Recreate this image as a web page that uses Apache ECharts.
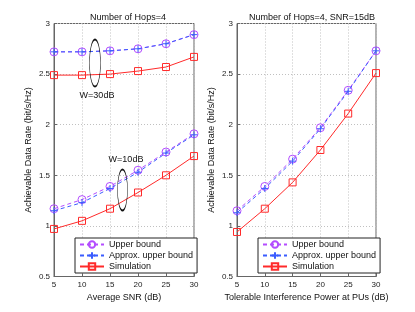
<!DOCTYPE html>
<html><head><meta charset="utf-8">
<script src="https://cdn.jsdelivr.net/npm/echarts@6/dist/echarts.min.js"></script>
<style>html,body{margin:0;padding:0;background:#fff}#c{width:415px;height:312px}</style>
</head><body><div id="c"></div>
<script>
// ---- data ----
const snr = [5, 10, 15, 20, 25, 30];
const itp = [5, 10, 15, 20, 25, 30];
const upperW30 = [2.72, 2.72, 2.73, 2.75, 2.80, 2.89];
const approxW30 = [2.72, 2.72, 2.73, 2.75, 2.80, 2.89];
const simW30 = [2.49, 2.49, 2.50, 2.53, 2.57, 2.67];
const upperW10 = [1.17, 1.26, 1.39, 1.55, 1.73, 1.91];
const approxW10 = [1.15, 1.23, 1.37, 1.53, 1.72, 1.90];
const simW10 = [0.97, 1.05, 1.17, 1.33, 1.50, 1.69];
const upperR = [1.15, 1.39, 1.66, 1.97, 2.34, 2.73];
const approxR = [1.13, 1.37, 1.64, 1.96, 2.33, 2.73];
const simR = [0.94, 1.17, 1.43, 1.75, 2.11, 2.51];
const names = ['Upper bound', 'Approx. upper bound', 'Simulation'];
const titles = ['Number of Hops=4', 'Number of Hops=4, SNR=15dB'];
const xNames = ['Average SNR (dB)', 'Tolerable Interference Power at PUs (dB)'];
const yName = 'Achievable Data Rate (bit/s/Hz)';

const C_UP = '#b44dff', C_AP = '#3a5cff', C_SIM = '#ff2a2a';
const COLS = [C_UP, C_AP, C_SIM];
const FONT = 'Liberation Sans, Arial, sans-serif';
const plus = 'path://M0,5L10,5M5,0L5,10';
const SYMS = ['circle', plus, 'rect'];
const DASH = [[4,3], [4,3], 'solid'];

function pairs(xs, ys){ return xs.map((x,i)=>[x, ys[i]]); }
function ser(kind, xi, xs, ys){
  return {type:'line', xAxisIndex:xi, yAxisIndex:xi, data:pairs(xs,ys), z: kind===1?4:3,
    name:names[kind], symbol:SYMS[kind], symbolSize: kind===0?8:7,
    itemStyle:{color:'rgba(255,255,255,0)', borderColor:COLS[kind], borderWidth:1},
    lineStyle:{color:COLS[kind], width:1, type:DASH[kind]}};
}
function xAx(gi){
  return {type:'value', gridIndex:gi, min:5, max:30, interval:5, name:xNames[gi],
    nameLocation:'middle', nameGap:15, nameTextStyle:{fontSize:9, color:'#111', fontFamily:FONT},
    axisLine:{lineStyle:{color:'#666'}}, axisTick:{inside:true, length:3, lineStyle:{color:'#666'}},
    axisLabel:{fontSize:8, color:'#222', margin:4, fontFamily:FONT},
    splitLine:{show:true, lineStyle:{color:'#c0c0c0', type:[1,2]}}};
}
function yAx(gi){
  return {type:'value', gridIndex:gi, min:0.5, max:3, interval:0.5, name:yName,
    nameLocation:'middle', nameGap:21, nameTextStyle:{fontSize:9, color:'#111', fontFamily:FONT},
    axisLine:{show:true, lineStyle:{color:'#666'}}, axisTick:{show:true, inside:true, length:3, lineStyle:{color:'#666'}},
    axisLabel:{fontSize:8, color:'#222', margin:4, fontFamily:FONT},
    splitLine:{show:true, lineStyle:{color:'#c0c0c0', type:[1,2]}}};
}
function leg(left){
  return {left:left, top:238, width:114, orient:'vertical', data:names, itemGap:2,
    itemWidth:24, itemHeight:8, padding:[2,4,2,4], backgroundColor:'#fff',
    borderColor:'#222', borderWidth:1, borderRadius:0, selectedMode:false,
    textStyle:{fontSize:9, color:'#111', fontFamily:FONT}};
}
const chart = echarts.init(document.getElementById('c'), null, {renderer:'canvas'});
chart.setOption({
  animation:false,
  backgroundColor:'#fff',
  textStyle:{fontFamily:FONT},
  title:[
    {text:titles[0], left:123, top:8, textAlign:'center', textStyle:{fontSize:9, fontWeight:'normal', color:'#111'}},
    {text:titles[1], left:307, top:8, textAlign:'center', textStyle:{fontSize:9, fontWeight:'normal', color:'#111'}}
  ],
  grid:[
    {left:54, top:23.5, width:140, height:253, show:true, borderColor:'#666', borderWidth:1, backgroundColor:'#fff'},
    {left:237, top:23.5, width:139, height:253, show:true, borderColor:'#666', borderWidth:1, backgroundColor:'#fff'}
  ],
  xAxis:[xAx(0), xAx(1)],
  yAxis:[yAx(0), yAx(1)],
  legend:[leg(75), leg(258)],
  series:[
    ser(0,0,snr,upperW30), ser(1,0,snr,approxW30), ser(2,0,snr,simW30),
    ser(0,0,snr,upperW10), ser(1,0,snr,approxW10), ser(2,0,snr,simW10),
    ser(0,1,itp,upperR), ser(1,1,itp,approxR), ser(2,1,itp,simR)
  ],
  graphic:[
    {type:'circle', shape:{cx:0, cy:0, r:10}, x:95, y:63, scaleX:0.55, scaleY:2.35,
      style:{fill:'none', stroke:'#111', lineWidth:1, strokeNoScale:true}, z:10},
    {type:'circle', shape:{cx:0, cy:0, r:10}, x:122.5, y:190, scaleX:0.5, scaleY:2.05,
      style:{fill:'none', stroke:'#111', lineWidth:1, strokeNoScale:true}, z:10},
    {type:'text', x:97, y:96, style:{text:'W=30dB', fontSize:9, fill:'#111', align:'center', verticalAlign:'middle', fontFamily:FONT}, z:10},
    {type:'text', x:126, y:160, style:{text:'W=10dB', fontSize:9, fill:'#111', align:'center', verticalAlign:'middle', fontFamily:FONT}, z:10}
  ]
});
</script></body></html>
